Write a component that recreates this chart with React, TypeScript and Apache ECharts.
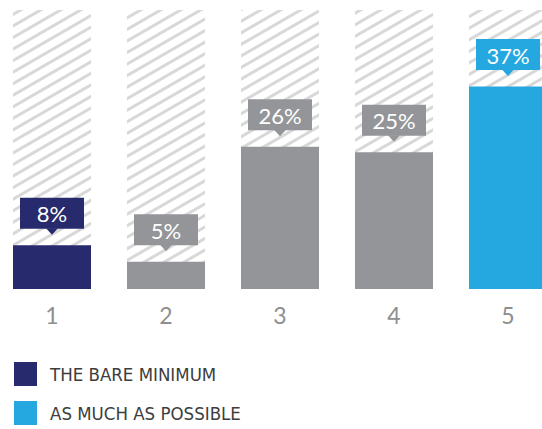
import React, { useEffect, useRef } from "react";
import * as echarts from "echarts";

const categories = ["1", "2", "3", "4", "5"];
const values = [8, 5, 26, 25, 37];
const labels = ["8%", "5%", "26%", "25%", "37%"];
const yMax = 51;
const legendNames = ["THE BARE MINIMUM", "AS MUCH AS POSSIBLE"];

const NAVY = "#272a6d";
const GREY = "#939598";
const BLUE = "#24a8df";
const barColors = [NAVY, GREY, GREY, GREY, BLUE];

export default function App() {
  const ref = useRef<HTMLDivElement>(null);
  useEffect(() => {
    if (!ref.current) return;
    const chart = echarts.init(ref.current, null, { renderer: "svg" });
    const option: any = {
      animation: false,
      backgroundColor: "#ffffff",
      grid: { left: 0, right: 0, top: 10, bottom: 140, containLabel: false },
      xAxis: {
        type: "category",
        data: categories,
        axisLine: { show: false },
        axisTick: { show: false },
        axisLabel: {
          color: "#8e8e8e",
          fontSize: 23,
          fontWeight: 400,
          fontFamily: "Lato, sans-serif",
          margin: 14,
        },
      },
      yAxis: {
        type: "value",
        min: 0,
        max: yMax,
        show: false,
        splitLine: { show: false },
      },
      legend: {
        orient: "vertical",
        left: 19,
        top: 362,
        padding: 0,
        itemWidth: 23,
        itemHeight: 24,
        itemGap: 15,
        icon: "rect",
        data: legendNames,
        textStyle: {
          fontSize: 18.5,
          color: "#3d3d3d",
          fontFamily: "'Liberation Sans Narrow', 'DejaVu Sans Condensed', sans-serif",
          padding: [0, 0, 0, 8],
        },
      },
      series: [
        {
          type: "bar",
          name: "bg",
          silent: true,
          barWidth: 78,
          barGap: "-100%",
          data: categories.map(() => yMax),
          itemStyle: {
            color: "#ffffff",
            decal: {
              symbol: "rect",
              symbolSize: 1,
              dashArrayX: [1, 0],
              dashArrayY: [3, 7],
              rotation: -Math.PI / 6,
              color: "#d8d8d8",
            },
          },
          z: 1,
        },
        {
          type: "bar",
          name: "value",
          barWidth: 78,
          barGap: "-100%",
          data: values.map((v, i) => ({ value: v, itemStyle: { color: barColors[i] } })),
          z: 2,
        },
        {
          type: "custom",
          name: "labels",
          z: 3,
          data: values.map((v, i) => [i, v]),
          renderItem: (params: any, api: any) => {
            const idx = api.value(0);
            const pt = api.coord([idx, api.value(1)]);
            const cx = pt[0];
            const tipY = pt[1] - 10.5;
            const boxBottom = tipY - 6;
            const boxTop = boxBottom - 31;
            const color = barColors[params.dataIndex];
            return {
              type: "group",
              children: [
                {
                  type: "rect",
                  shape: { x: cx - 32, y: boxTop, width: 64, height: 31 },
                  style: { fill: color },
                },
                {
                  type: "polygon",
                  shape: {
                    points: [
                      [cx - 6, boxBottom - 0.5],
                      [cx + 6, boxBottom - 0.5],
                      [cx, tipY],
                    ],
                  },
                  style: { fill: color },
                },
                {
                  type: "text",
                  x: cx,
                  y: boxTop + 16,
                  style: {
                    text: labels[params.dataIndex],
                    fill: "#ffffff",
                    fontSize: 22,
                    fontWeight: 400,
                    fontFamily: "Lato, sans-serif",
                    align: "center",
                    verticalAlign: "middle",
                  },
                },
              ],
            };
          },
        },
        { type: "line", name: legendNames[0], data: [], color: NAVY, itemStyle: { color: NAVY } },
        { type: "line", name: legendNames[1], data: [], color: BLUE, itemStyle: { color: BLUE } },
      ],
    };
    chart.setOption(option);
    return () => chart.dispose();
  }, []);
  return (
    <div
      ref={ref}
      style={{ position: "fixed", left: -5, top: 0, width: 570, height: 429 }}
    />
  );
}
